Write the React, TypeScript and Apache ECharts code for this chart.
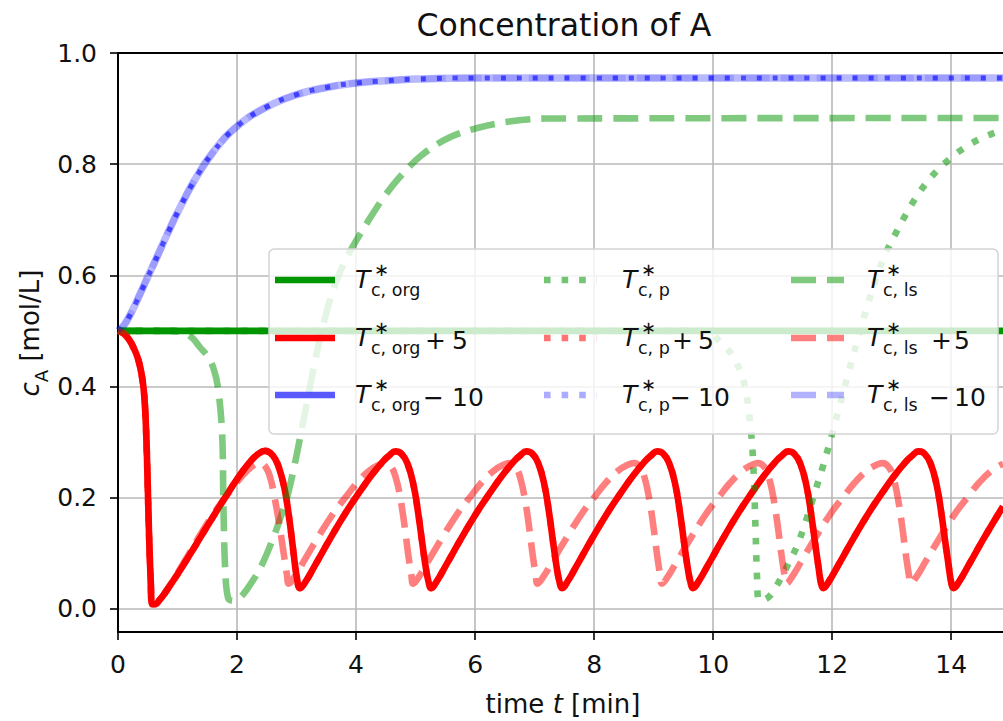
import React, { useEffect, useRef } from "react";
import * as echarts from "echarts";

// ---------- data ----------
const X_TICKS = [0, 2, 4, 6, 8, 10, 12, 14];
const Y_TICKS = [0, 0.2, 0.4, 0.6, 0.8, 1.0];
const X_MIN = 0;
const X_MAX = 14.87;
const Y_MIN = -0.042;
const Y_MAX = 1.0;

// T_c,org - 10 (all three blue variants coincide)
const tBlue = [0, 0.1, 0.2, 0.3, 0.42, 0.5, 0.6, 0.68, 0.76, 0.88, 1.0, 1.27, 1.6, 2.0, 2.5, 3.0, 3.5, 4.0, 4.5, 5.0, 6.0, 8.0, 10.0, 12.0, 14.87];
const cBlue = [0.5, 0.51, 0.528, 0.55, 0.578, 0.597, 0.62, 0.639, 0.658, 0.686, 0.713, 0.768, 0.822, 0.868, 0.903, 0.925, 0.938, 0.946, 0.95, 0.953, 0.955, 0.955, 0.955, 0.955, 0.955];

// T_c,org (green, solid)
const tGreenOrg = [0, 14.87];
const cGreenOrg = [0.5, 0.5];

// T_c,p (green, dotted)
const tGreenP = [0, 9.8, 10.0, 10.12, 10.32, 10.45, 10.54, 10.62, 10.67, 10.71, 10.74, 10.77, 10.85, 10.96, 11.13, 11.26, 11.41, 11.58, 11.71, 11.85, 12.0, 12.15, 12.3, 12.45, 12.6, 12.75, 12.9, 13.09, 13.23, 13.39, 13.56, 13.76, 13.98, 14.2, 14.49, 14.87];
const cGreenP = [0.5, 0.5, 0.493, 0.479, 0.457, 0.428, 0.397, 0.336, 0.268, 0.15, 0.05, 0.015, 0.016, 0.024, 0.053, 0.08, 0.113, 0.165, 0.21, 0.258, 0.315, 0.375, 0.435, 0.492, 0.548, 0.598, 0.64, 0.68, 0.708, 0.737, 0.763, 0.788, 0.81, 0.828, 0.846, 0.862];

// T_c,ls (green, dashed)
const tGreenLs = [0, 0.9, 1.09, 1.25, 1.38, 1.5, 1.6, 1.68, 1.75, 1.77, 1.8, 1.85, 1.93, 2.05, 2.2, 2.4, 2.6, 2.75, 2.84, 2.95, 3.06, 3.2, 3.3, 3.4, 3.5, 3.6, 3.7, 3.85, 4.0, 4.2, 4.45, 4.72, 5.09, 5.55, 6.07, 6.6, 7.2, 14.87];
const cGreenLs = [0.5, 0.5, 0.497, 0.487, 0.47, 0.455, 0.434, 0.398, 0.314, 0.194, 0.073, 0.019, 0.014, 0.02, 0.04, 0.075, 0.125, 0.17, 0.2, 0.25, 0.308, 0.385, 0.44, 0.49, 0.532, 0.568, 0.598, 0.633, 0.662, 0.697, 0.738, 0.775, 0.815, 0.847, 0.866, 0.877, 0.882, 0.883];

// T_c,org + 5 (red, solid) -- T_c,p + 5 coincides
const tRedOrg = [
  0, 0.1, 0.2, 0.26, 0.32, 0.37, 0.41, 0.44, 0.465, 0.49, 0.52, 0.55, 0.577, 0.62, 0.7, 0.8, 1.0, 1.2, 1.4, 1.6, 1.8, 2.0, 2.2, 2.35, 2.47, 2.6, 2.7, 2.8, 2.88, 2.95, 3.0,
  3.06, 3.16, 3.31, 3.56, 3.81, 4.06, 4.26, 4.46, 4.56, 4.66, 4.76, 4.86, 4.96, 5.04, 5.11, 5.17, 5.22,
  5.26, 5.36, 5.51, 5.76, 6.01, 6.26, 6.46, 6.66, 6.76, 6.86, 6.96, 7.06, 7.16, 7.24, 7.31, 7.37, 7.42,
  7.46, 7.56, 7.71, 7.96, 8.21, 8.46, 8.66, 8.86, 8.96, 9.06, 9.16, 9.26, 9.36, 9.44, 9.51, 9.57, 9.62,
  9.66, 9.76, 9.91, 10.16, 10.41, 10.66, 10.86, 11.06, 11.16, 11.26, 11.36, 11.46, 11.56, 11.64, 11.71, 11.77, 11.81,
  11.85, 11.95, 12.1, 12.35, 12.6, 12.85, 13.05, 13.25, 13.35, 13.45, 13.55, 13.65, 13.75, 13.83, 13.9, 13.96, 14.0,
  14.04, 14.14, 14.29, 14.54, 14.79, 14.87,
];
const cRedOrg = [
  0.5, 0.495, 0.482, 0.47, 0.455, 0.436, 0.413, 0.385, 0.34, 0.26, 0.14, 0.05, 0.008, 0.008, 0.016, 0.03, 0.062, 0.096, 0.131, 0.166, 0.2, 0.233, 0.262, 0.278, 0.284, 0.276, 0.255, 0.215, 0.16, 0.1, 0.06,
  0.037, 0.05, 0.078, 0.125, 0.17, 0.21, 0.24, 0.266, 0.276, 0.283, 0.279, 0.262, 0.225, 0.175, 0.12, 0.075, 0.047,
  0.037, 0.05, 0.078, 0.125, 0.17, 0.21, 0.24, 0.266, 0.276, 0.283, 0.279, 0.262, 0.225, 0.175, 0.12, 0.075, 0.047,
  0.037, 0.05, 0.078, 0.125, 0.17, 0.21, 0.24, 0.266, 0.276, 0.283, 0.279, 0.262, 0.225, 0.175, 0.12, 0.075, 0.047,
  0.037, 0.05, 0.078, 0.125, 0.17, 0.21, 0.24, 0.266, 0.276, 0.283, 0.279, 0.262, 0.225, 0.175, 0.12, 0.075, 0.047,
  0.037, 0.05, 0.078, 0.125, 0.17, 0.21, 0.24, 0.266, 0.276, 0.283, 0.279, 0.262, 0.225, 0.175, 0.12, 0.075, 0.047,
  0.037, 0.05, 0.078, 0.125, 0.17, 0.184,
];

// T_c,ls + 5 (red, dashed)
const tRedLs = [
  0, 0.1, 0.2, 0.26, 0.32, 0.37, 0.41, 0.44, 0.465, 0.49, 0.52, 0.55, 0.577, 0.62, 0.7, 0.8, 1.0, 1.2, 1.4, 1.6, 1.8, 2.0, 2.15, 2.28, 2.38, 2.48, 2.56, 2.64, 2.72, 2.79, 2.84,
  2.87, 2.97, 3.12, 3.37, 3.62, 3.82, 4.02, 4.22, 4.37, 4.49, 4.59, 4.67, 4.75, 4.82, 4.88, 4.93,
  4.96, 5.06, 5.21, 5.46, 5.71, 5.91, 6.11, 6.31, 6.46, 6.58, 6.68, 6.76, 6.84, 6.91, 6.97, 7.02,
  7.05, 7.15, 7.3, 7.55, 7.8, 8.0, 8.2, 8.4, 8.55, 8.67, 8.77, 8.85, 8.93, 9.0, 9.06, 9.11,
  9.14, 9.24, 9.39, 9.64, 9.89, 10.09, 10.29, 10.49, 10.64, 10.76, 10.86, 10.94, 11.02, 11.09, 11.15, 11.2,
  11.23, 11.33, 11.48, 11.73, 11.98, 12.18, 12.38, 12.58, 12.73, 12.85, 12.95, 13.03, 13.11, 13.18, 13.24, 13.29,
  13.32, 13.42, 13.57, 13.82, 14.07, 14.27, 14.47, 14.67, 14.82, 14.87,
];
const cRedLs = [
  0.5, 0.495, 0.482, 0.47, 0.455, 0.436, 0.413, 0.385, 0.34, 0.26, 0.14, 0.05, 0.008, 0.008, 0.016, 0.03, 0.064, 0.1, 0.136, 0.17, 0.2, 0.228, 0.246, 0.258, 0.262, 0.255, 0.235, 0.195, 0.145, 0.095, 0.06,
  0.045, 0.058, 0.085, 0.13, 0.172, 0.2, 0.227, 0.248, 0.258, 0.262, 0.255, 0.235, 0.195, 0.145, 0.095, 0.06,
  0.045, 0.058, 0.085, 0.13, 0.172, 0.2, 0.227, 0.248, 0.258, 0.262, 0.255, 0.235, 0.195, 0.145, 0.095, 0.06,
  0.045, 0.058, 0.085, 0.13, 0.172, 0.2, 0.227, 0.248, 0.258, 0.262, 0.255, 0.235, 0.195, 0.145, 0.095, 0.06,
  0.045, 0.058, 0.085, 0.13, 0.172, 0.2, 0.227, 0.248, 0.258, 0.262, 0.255, 0.235, 0.195, 0.145, 0.095, 0.06,
  0.045, 0.058, 0.085, 0.13, 0.172, 0.2, 0.227, 0.248, 0.258, 0.262, 0.255, 0.235, 0.195, 0.145, 0.095, 0.06,
  0.045, 0.058, 0.085, 0.13, 0.172, 0.2, 0.227, 0.248, 0.258, 0.26,
];

const LEGEND_VARIANTS = ["c, org", "c, p", "c, ls"];
const LEGEND_OFFSETS = ["", "+5", "\u221210"];
const TITLE = "Concentration of A";

// ---------- styling ----------
const FONT = "'DejaVu Sans', sans-serif";
const GREEN = "0,150,0";
const RED = "255,0,0";
const BLUE = "0,0,255";
const DOT = [6.6, 11];
const DASH = [25, 11];
const LW = 6.6;

function pairs(t: number[], c: number[]) {
  return t.map((x, i) => [x, c[i]]);
}

function line(name: string, t: number[], c: number[], color: string, type: any, width = LW, sm = 0.45) {
  return {
    name,
    type: "line",
    data: pairs(t, c),
    showSymbol: false,
    symbol: "none",
    smooth: sm,
    clip: true,
    lineStyle: { color, width, type, cap: "butt", join: "round" },
    emphasis: { disabled: true },
  };
}

function txt(x: number, y: number, text: string, size: number, italic = false, lh?: number) {
  return {
    type: "text",
    x,
    y,
    z: 101,
    style: {
      text,
      fontSize: size,
      fontStyle: italic ? "italic" : "normal",
      fontFamily: FONT,
      fill: "#111",
      align: "left",
      verticalAlign: "middle",
      lineHeight: lh ?? size,
    },
  };
}

function buildLegend() {
  const rowsY = [280, 338, 395];
  const rowColors = [GREEN, RED, BLUE];
  const cols = [
    { hx1: 275, hx2: 335, tx: 355, opx: 425, numx: 452, dash: null as any },
    { hx1: 544, hx2: 597, tx: 622, opx: 672, numx: 698, dash: DOT },
    { hx1: 791, hx2: 844, tx: 867, opx: 931, numx: 954, dash: DASH },
  ];
  const handleAlpha = [
    [1, 0.55, 0.5],
    [1, 0.55, 0.5],
    [0.65, 0.33, 0.3],
  ];
  const els: any[] = [
    {
      type: "rect",
      shape: { x: 269, y: 249, width: 729, height: 185, r: 5 },
      style: { fill: "rgba(255,255,255,0.8)", stroke: "#d3d3d3", lineWidth: 1.5 },
      z: 100,
    },
  ];
  rowsY.forEach((h, r) => {
    cols.forEach((col, ci) => {
      els.push({
        type: "line",
        shape: { x1: col.hx1, y1: h, x2: col.hx2, y2: h },
        style: {
          stroke: `rgba(${rowColors[r]},${handleAlpha[r][ci]})`,
          lineWidth: LW,
          lineDash: col.dash || undefined,
          lineCap: "butt",
        },
        z: 101,
      });
      els.push(txt(col.tx, h - 1, "T", 25, true, 18));
      els.push(txt(col.tx + 19, h - 11, "\u2217", 18, false, 12));
      els.push(txt(col.tx + 16, h + 10, LEGEND_VARIANTS[ci], 17.5, false, 14));
      if (r > 0) {
        const off = LEGEND_OFFSETS[r];
        els.push(txt(r === 1 ? col.opx : col.opx - 2, h + 2, off.slice(0, 1), 25, false, 20));
        els.push(txt(col.numx, h + 2, off.slice(1), 25, false, 20));
      }
    });
  });
  return els;
}

export default function App() {
  const ref = useRef<HTMLDivElement>(null);
  useEffect(() => {
    if (!ref.current) return;
    const chart = echarts.init(ref.current, undefined, { renderer: "svg" });
    const axisText = { fontSize: 25, fontFamily: FONT, color: "#111" };
    const option: any = {
      animation: false,
      backgroundColor: "#fff",
      grid: { left: 118, right: 0, top: 53, bottom: 89, containLabel: false },
      xAxis: {
        type: "value",
        min: X_MIN,
        max: X_MAX,
        axisLine: { show: true, onZero: false, lineStyle: { color: "#000", width: 2 } },
        axisTick: { show: true, customValues: X_TICKS, length: 8, lineStyle: { color: "#000", width: 1.6 } },
        axisLabel: { ...axisText, customValues: X_TICKS, margin: 20, formatter: (v: number) => String(v) },
        splitLine: { show: true, lineStyle: { color: "#b8b8b8", width: 1.6 } },
      },
      yAxis: {
        type: "value",
        min: Y_MIN,
        max: Y_MAX,
        axisLine: { show: true, onZero: false, lineStyle: { color: "#000", width: 2 } },
        axisTick: { show: true, customValues: Y_TICKS, length: 8, lineStyle: { color: "#000", width: 1.6 } },
        axisLabel: { ...axisText, customValues: Y_TICKS, margin: 21, formatter: (v: number) => v.toFixed(1) },
        splitLine: { show: true, lineStyle: { color: "#b8b8b8", width: 1.6 } },
      },
      series: [
        line("Tc,org", tGreenOrg, cGreenOrg, `rgb(${GREEN})`, "solid"),
        line("Tc,org+5", tRedOrg, cRedOrg, `rgb(${RED})`, "solid"),
        line("Tc,org-10", tBlue, cBlue, `rgba(${BLUE},0.28)`, "solid", 7.5),
        line("Tc,p", tGreenP, cGreenP, `rgba(${GREEN},0.55)`, DOT, LW, 0.35),
        line("Tc,p+5", tRedOrg, cRedOrg, `rgba(${RED},0.55)`, DOT),
        line("Tc,p-10", tBlue, cBlue, `rgba(${BLUE},0.6)`, [5, 11], 5),
        line("Tc,ls", tGreenLs, cGreenLs, `rgba(${GREEN},0.5)`, DASH, LW, 0.35),
        line("Tc,ls+5", tRedLs, cRedLs, `rgba(${RED},0.5)`, DASH),
        line("Tc,ls-10", tBlue, cBlue, `rgba(${BLUE},0.15)`, DASH),
      ],
      graphic: [
        {
          type: "line",
          shape: { x1: 118, y1: 53, x2: 1003, y2: 53 },
          style: { stroke: "#000", lineWidth: 2 },
          z: 50,
        },
        {
          type: "text",
          x: 564,
          y: 25,
          style: { text: TITLE, fontSize: 31.5, fontFamily: FONT, fill: "#111", align: "center", verticalAlign: "middle" },
        },
        {
          type: "text",
          x: 563,
          y: 704,
          style: {
            text: "{n|time }{i|t}{n| [min]}",
            align: "center",
            verticalAlign: "middle",
            fill: "#111",
            rich: {
              n: { fontSize: 26, fontFamily: FONT, fill: "#111" },
              i: { fontSize: 26, fontFamily: FONT, fontStyle: "italic", fill: "#111" },
            },
          },
        },
        {
          type: "text",
          x: 30,
          y: 333,
          rotation: Math.PI / 2,
          style: {
            text: "{i|c}{s|A}{n| [mol/L]}",
            align: "center",
            verticalAlign: "middle",
            fill: "#111",
            rich: {
              i: { fontSize: 26, fontFamily: FONT, fontStyle: "italic", fill: "#111", lineHeight: 40, verticalAlign: "middle" },
              s: { fontSize: 18, fontFamily: FONT, fill: "#111", lineHeight: 18, verticalAlign: "bottom" },
              n: { fontSize: 26, fontFamily: FONT, fill: "#111", lineHeight: 40, verticalAlign: "middle" },
            },
          },
        },
        ...buildLegend(),
      ],
    };
    chart.setOption(option);
    return () => chart.dispose();
  }, []);
  return (
    <div
      ref={ref}
      style={{ position: "absolute", left: 0, top: 0, width: 1003, height: 721, background: "#fff" }}
    />
  );
}
